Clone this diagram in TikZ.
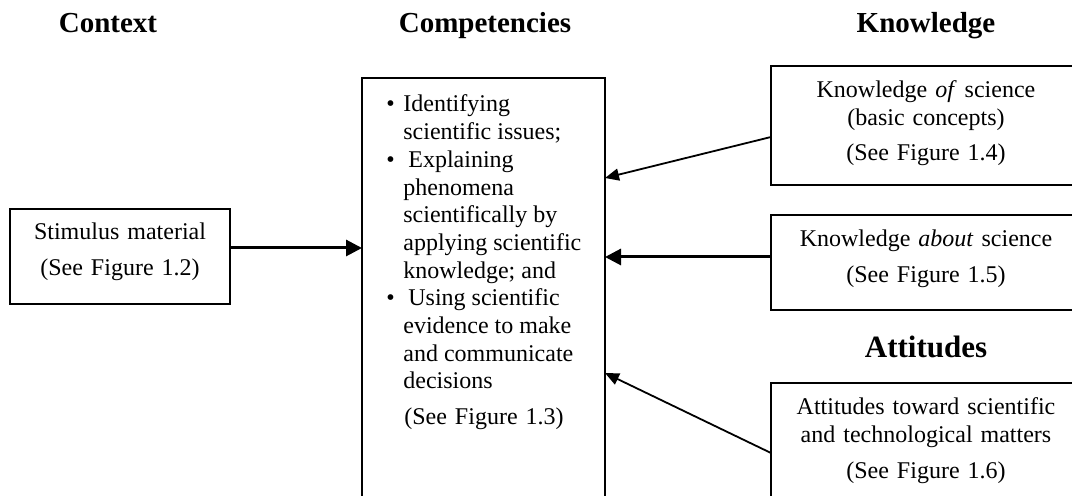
\documentclass[tikz,border=0pt]{standalone}
\usepackage{fontspec}
\setmainfont{Liberation Serif}
\usetikzlibrary{arrows.meta}

\tikzset{
    framebox/.style={draw, line width=0.6pt, inner sep=0pt, outer sep=0pt},
    boxtext/.style={font=\fontsize{12}{13.85}\selectfont, align=center, text width=150pt, inner sep=0pt, anchor=base},
    heading/.style={font=\fontsize{14.5}{17}\selectfont\bfseries, inner sep=0pt, anchor=base},
    bigarrow/.style={line width=1.5pt, -{Triangle[length=8pt,width=8pt]}},
    thinarrow/.style={line width=0.9pt, -{Triangle[length=7pt,width=6pt]}}
}

\begin{document}
\begin{tikzpicture}[x=0.5pt, y=-0.5pt]
    % Fix the page to the size of the reference
    \useasboundingbox (0,0) rectangle (1072,496);
    \clip (0,0) rectangle (1072,496);

    % Draw the column headings
    \foreach \x/\name in {108/Context, 485/Competencies, 926/Knowledge}
        \node[heading] (head-\name) at (\x,33) {\name};
    \node[heading, font=\fontsize{15.5}{18}\selectfont\bfseries] (head-Attitudes) at (926,358) {Attitudes};

    % Draw the boxes
    \node[framebox, anchor=north west, minimum width=110pt, minimum height=47.5pt] (stim) at (10,209) {};
    \node[framebox, anchor=north west, minimum width=121.5pt, minimum height=225pt] (comp) at (362,78) {};
    \node[framebox, anchor=north west, minimum width=155pt, minimum height=59.5pt] (know1) at (771,66) {};
    \node[framebox, anchor=north west, minimum width=155pt, minimum height=47.5pt] (know2) at (771,215) {};
    \node[framebox, anchor=north west, minimum width=155pt, minimum height=64pt] (att) at (771,383) {};

    % Texts in the boxes
    \node[boxtext] (stimtext) at (120,240) {Stimulus material\\[4pt] (See Figure 1.2)};
    \node[boxtext] (know1text) at (926,98) {Knowledge \textit{of} science\\ (basic concepts)\\[3.5pt] (See Figure 1.4)};
    \node[boxtext] (know2text) at (926,247) {Knowledge \textit{about} science\\[4pt] (See Figure 1.5)};
    \node[boxtext] (atttext) at (926,415) {Attitudes toward scientific\\ and technological matters\\[4pt] (See Figure 1.6)};
    \node[font=\fontsize{12}{13.85}\selectfont, inner sep=0pt, anchor=base west] (comptext) at (386,112) {%
        \begin{tabular}[t]{@{}l@{\hspace{4.3pt}}l@{}}
            \textbullet & Identifying\\
            & scientific issues;\\
            \textbullet & \hspace{2.5pt}Explaining\\
            & phenomena\\
            & scientifically by\\
            & applying scientific\\
            & knowledge; and\\
            \textbullet & \hspace{2.5pt}Using scientific\\
            & evidence to make\\
            & and communicate\\
            & decisions
        \end{tabular}};
    \node[boxtext] (comptext2) at (484,425) {(See Figure 1.3)};

    % Points where the arrows leave and meet the boxes
    \coordinate (stimout) at ([yshift=4.25pt]stim.east);
    \coordinate (k1out) at ([yshift=-5.75pt]know1.west);
    \coordinate (k2out) at ([yshift=2.75pt]know2.west);
    \coordinate (attout) at ([yshift=-35pt]att.north west);
    \coordinate (compin) at (comp.west |- stimout);
    \coordinate (compk1) at ([yshift=-50pt]comp.north east);
    \coordinate (compk2) at (comp.east |- k2out);
    \coordinate (compatt) at ([yshift=-147.5pt]comp.north east);

    % Connect the boxes
    \draw[bigarrow] (stimout) -- (compin);
    \draw[thinarrow] (k1out) -- (compk1);
    \draw[bigarrow] (k2out) -- (compk2);
    \draw[thinarrow] (attout) -- (compatt);

\end{tikzpicture}
\end{document}
